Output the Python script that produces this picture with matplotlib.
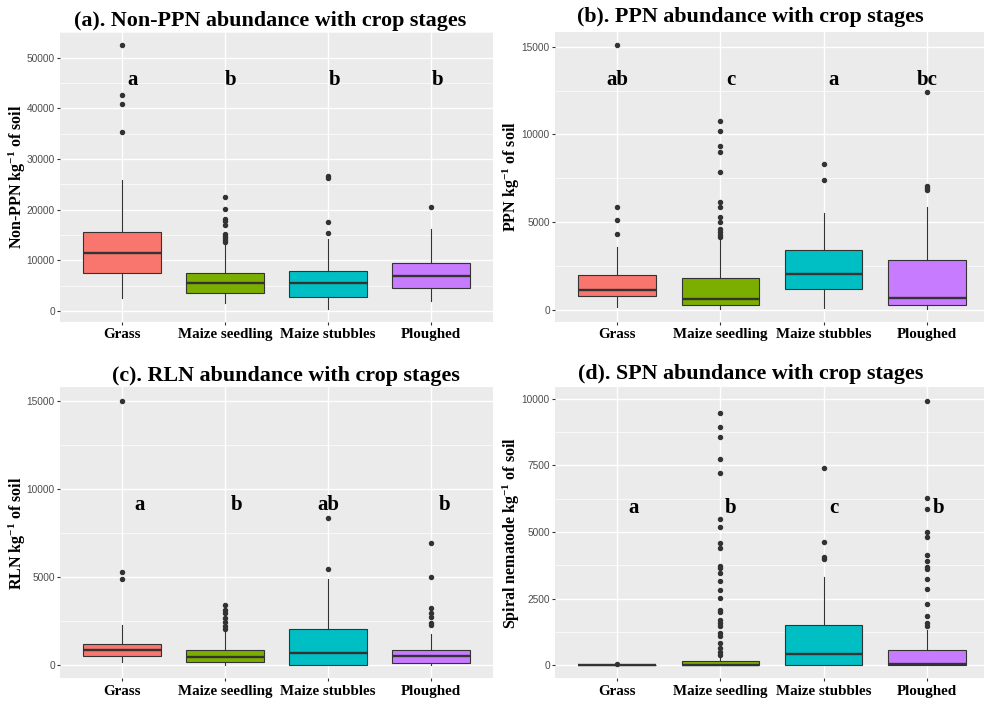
import matplotlib.pyplot as plt
from matplotlib.ticker import MultipleLocator

plt.rcParams['font.family'] = 'Liberation Serif'
plt.rcParams['mathtext.fontset'] = 'custom'
plt.rcParams['mathtext.rm'] = 'Liberation Serif:bold'
plt.rcParams['mathtext.it'] = 'Liberation Serif:bold'
plt.rcParams['mathtext.bf'] = 'Liberation Serif:bold'

stages = ["Grass", "Maize seedling", "Maize stubbles", "Ploughed"]
colors = ["#F8766D", "#7CAE00", "#00BFC4", "#C77CFF"]

# (a) Non-PPN
nonppn_lo = [2500, 1520, 470, 1970]
nonppn_q1 = [7560, 3620, 2830, 4610]
nonppn_med = [11360, 5510, 5510, 6970]
nonppn_q3 = [15630, 7560, 7810, 9530]
nonppn_hi = [25930, 13130, 14110, 16080]
nonppn_out = [[52500, 42650, 40830, 35310],
              [22520, 20020, 18190, 17720, 16930, 15100, 14700, 14300, 13900, 13600],
              [26710, 26250, 17590, 15430],
              [20550]]
nonppn_letters = ["a", "b", "b", "b"]

# (b) PPN
ppn_lo = [190, 95, 150, 95]
ppn_q1 = [815, 300, 1200, 300]
ppn_med = [1160, 645, 2070, 720]
ppn_q3 = [2030, 1860, 3420, 2850]
ppn_hi = [3610, 4100, 5550, 5850]
ppn_out = [[15100, 5870, 5150, 4330],
           [10770, 10220, 9360, 9020, 7860, 6150, 5850, 5320, 5030, 4600, 4440, 4270, 4180],
           [8340, 7390],
           [12420, 7080, 6930, 6820]]
ppn_letters = ["ab", "c", "a", "bc"]

# (c) RLN
rln_lo = [190, 30, 0, 20]
rln_q1 = [490, 150, 0, 130]
rln_med = [830, 450, 680, 490]
rln_q3 = [1210, 870, 2060, 870]
rln_hi = [2250, 1990, 4860, 1760]
rln_out = [[15000, 5280, 4900],
           [3400, 3120, 2930, 2650, 2460, 2210, 2060],
           [8320, 5470],
           [6920, 4990, 3250, 2970, 2740, 2400, 2250]]
rln_letters = ["a", "b", "ab", "b"]

# (d) SPN
spn_lo = [0, 0, 0, 0]
spn_q1 = [0, 0, 0, 0]
spn_med = [0, 20, 413, 25]
spn_q3 = [0, 150, 1504, 551]
spn_hi = [0, 300, 3320, 1316]
spn_out = [[50],
           [9460, 8947, 8571, 7744, 7217, 5476, 5200, 4573, 4411, 3721, 3634, 3471, 3158,
            2819, 2531, 2067, 2005, 1692, 1566, 1466, 1215, 1090, 814, 652, 501, 376],
           [7405, 4611, 4072, 3972],
           [9936, 6290, 5877, 5012, 4824, 4135, 3922, 3696, 3609, 3245, 2844, 2280, 1854, 1566, 1466]]
spn_letters = ["a", "b", "c", "b"]

panels = [
    dict(title="(a). Non-PPN abundance with crop stages", ylabel="Non-PPN kg$^{-1}$ of soil",
         lo=nonppn_lo, q1=nonppn_q1, med=nonppn_med, q3=nonppn_q3, hi=nonppn_hi, out=nonppn_out,
         letters=nonppn_letters, letter_y=44600, dx=[0.1, 0.05, 0.06, 0.06], step=10000,
         rect=[0.061, 0.5424, 0.440, 0.4125], tx=0.486, tpad=4.1, lx=-0.099),
    dict(title="(b). PPN abundance with crop stages", ylabel="PPN kg$^{-1}$ of soil",
         lo=ppn_lo, q1=ppn_q1, med=ppn_med, q3=ppn_q3, hi=ppn_hi, out=ppn_out,
         letters=ppn_letters, letter_y=12820, dx=[0.0, 0.1, 0.1, 0.0], step=5000,
         rect=[0.564, 0.5424, 0.441, 0.4125], tx=0.451, tpad=7.0, lx=-0.1),
    dict(title="(c). RLN abundance with crop stages", ylabel="RLN kg$^{-1}$ of soil",
         lo=rln_lo, q1=rln_q1, med=rln_med, q3=rln_q3, hi=rln_hi, out=rln_out,
         letters=rln_letters, letter_y=8800, dx=[0.17, 0.11, 0.0, 0.13], step=5000,
         rect=[0.061, 0.0351, 0.440, 0.414], tx=0.522, tpad=4.75, lx=-0.099),
    dict(title="(d). SPN abundance with crop stages", ylabel="Spiral nematode kg$^{-1}$ of soil",
         lo=spn_lo, q1=spn_q1, med=spn_med, q3=spn_q3, hi=spn_hi, out=spn_out,
         letters=spn_letters, letter_y=5725, dx=[0.16, 0.1, 0.1, 0.11], step=2500,
         rect=[0.564, 0.0351, 0.441, 0.414], tx=0.451, tpad=5.8, lx=-0.1),
]

fig = plt.figure(figsize=(9.84, 7.03), dpi=100)

for p in panels:
    ax = fig.add_axes(p["rect"])
    ax.set_facecolor("#EBEBEB")
    stats = []
    for i in range(4):
        stats.append(dict(whislo=p["lo"][i], q1=p["q1"][i], med=p["med"][i],
                          q3=p["q3"][i], whishi=p["hi"][i], fliers=p["out"][i]))
    bp = ax.bxp(stats, positions=[1, 2, 3, 4], widths=0.75, patch_artist=True,
                showcaps=False, zorder=3,
                boxprops=dict(edgecolor="#333333", linewidth=0.8),
                whiskerprops=dict(color="#333333", linewidth=0.8),
                medianprops=dict(color="#333333", linewidth=1.7),
                flierprops=dict(marker="o", markersize=2.9, markerfacecolor="#333333",
                                markeredgecolor="#333333", linestyle="none"))
    for patch, c in zip(bp["boxes"], colors):
        patch.set_facecolor(c)

    # ggplot-like 5% expansion
    vals = p["lo"] + [v for o in p["out"] for v in o] + p["hi"]
    vmin, vmax = min(vals), max(vals)
    r = vmax - vmin
    ax.set_ylim(vmin - 0.05 * r, vmax + 0.05 * r)
    ax.set_xlim(0.4, 4.6)

    ax.yaxis.set_major_locator(MultipleLocator(p["step"]))
    ax.yaxis.set_minor_locator(MultipleLocator(p["step"] / 2))
    ax.grid(True, which="major", color="white", linewidth=1.0, zorder=0)
    ax.grid(True, which="minor", axis="y", color="white", linewidth=0.5, zorder=0)
    ax.set_axisbelow(True)
    for s in ax.spines.values():
        s.set_visible(False)

    ax.set_xticks([1, 2, 3, 4])
    ax.set_xticklabels(stages, fontsize=10.8, fontweight="bold")
    ax.tick_params(axis="x", length=2.4, color="#333333", pad=2.5)
    ax.tick_params(axis="y", length=2.2, color="#333333", pad=1.5, labelsize=7.3,
                   labelcolor="#4D4D4D")
    ax.tick_params(which="minor", length=0)
    for lab in ax.get_yticklabels():
        lab.set_fontfamily("Liberation Sans")

    ax.set_ylabel(p["ylabel"], fontsize=11.5, fontweight="bold", va="center")
    ax.yaxis.set_label_coords(p["lx"], 0.5)
    ax.set_title(p["title"], fontsize=15.8, fontweight="bold", x=p["tx"], pad=p["tpad"])

    for i, t in enumerate(p["letters"]):
        ax.text(i + 1 + p["dx"][i], p["letter_y"], t, ha="center", va="baseline",
                fontsize=15, fontweight="bold", zorder=4)

fig.savefig("out.png", dpi=100)
